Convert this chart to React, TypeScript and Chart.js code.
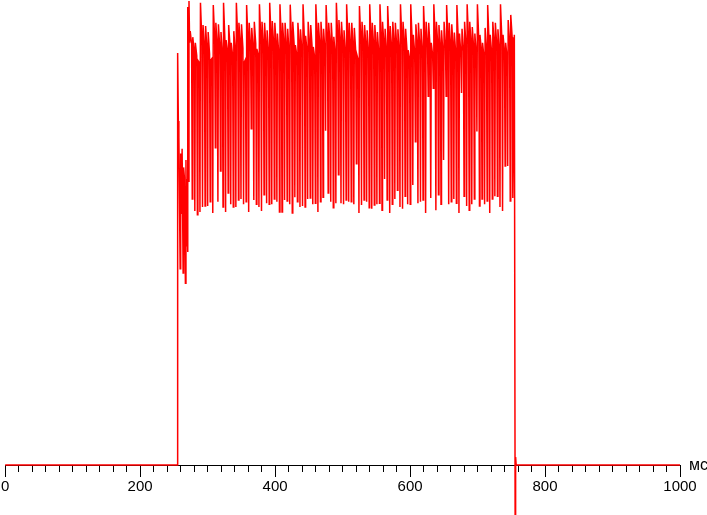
import React, { useEffect, useRef } from 'react';
import { Chart, registerables } from 'chart.js';

Chart.register(...registerables);

// ---- tick labels & unit ----
const xTickLabels = ['0', '200', '400', '600', '800', '1000'];
const unitLabel = 'мс';

// ---- baseline before the light turns on (ms, value %) ----
const baseMs = [0, 255.2];
const baseVal = [0, 0];

// ---- onset transient ----
const onsetMs = [255.6, 256.6, 257.4, 259.3, 260.1, 261.2, 262.2, 263.7, 264.4, 265.5, 267.1, 267.9, 268.6, 269.6, 270.2, 270.9, 271.7, 272.4, 273.3];
const onsetVal = [88.6, 74.0, 70.5, 42.2, 67.0, 54.0, 68.0, 41.3, 64.0, 62.0, 39.1, 65.6, 47.0, 61.5, 45.8, 98.5, 61.0, 99.8, 90.8];

// ---- ripple cycles (each: top, mid, bottom) ----
const cycleStartMs = 274.2;
const cyclePeriodMs = 3.8;
const cycleTop = [
  93.3, 92.0, 90.8, 87.0, 99.4, 94.6, 94.4, 93.1, 87.1, 98.9, 95.1, 94.8, 93.1, 99.4, 91.4, 94.6, 90.8, 93.3, 99.4, 95.1,
  94.8, 86.5, 98.9, 95.1, 94.0, 95.3, 89.5, 99.1, 95.3, 95.1, 93.5, 99.4, 95.5, 95.1, 92.8,
  99.1, 95.1, 95.1, 93.8, 99.0, 95.3, 90.3, 95.1, 93.7, 99.1, 92.3, 95.3, 94.6, 89.9, 99.1, 95.1, 95.3, 93.8, 98.9, 95.1,
  95.1, 92.1, 99.4, 95.7, 95.3, 93.5, 99.1, 95.1, 95.1, 94.0, 88.2, 98.7, 95.3, 94.6, 93.5, 99.1, 95.1, 94.6, 93.1, 99.1,
  95.3, 93.8,
  98.7, 94.4, 95.3, 95.1, 93.7, 99.1, 95.3, 93.8, 89.2, 99.1, 92.5, 94.8, 95.1, 93.8, 98.7, 95.3, 95.1, 90.8, 99.1, 95.3,
  94.6, 93.5, 95.3, 98.9, 95.1, 94.8, 93.0, 98.9, 92.8, 93.8, 95.3, 99.1, 95.3, 94.2, 92.8, 99.1, 92.5, 90.8,
  94.0, 98.9, 92.5, 95.3, 95.1, 93.7, 99.1, 92.5, 90.8, 95.7, 96.8,
];
const cycleMid = [
  90.5, 89.0, 88.0, 86.5, 91.0, 90.0, 89.2, 88.4, 87.5, 91.4, 90.2, 89.5, 88.6, 91.2, 89.0, 89.8, 88.0, 88.8, 91.5, 90.4,
  89.6, 87.2, 91.0, 90.0, 89.4, 90.6, 88.0, 91.3, 90.2, 89.6, 88.5, 91.6, 90.5, 89.8, 88.4,
  91.2, 90.3, 89.6, 88.7, 91.0, 90.2, 88.2, 89.9, 88.9, 91.3, 89.0, 90.4, 89.7, 87.6, 91.1, 90.1, 89.9, 88.8, 91.0, 90.3,
  89.5, 88.2, 91.4, 90.6, 89.8, 88.6, 91.2, 90.2, 89.6, 88.9, 87.0, 91.1, 90.4, 89.7, 88.6, 91.3, 90.0, 89.5, 88.4, 91.0,
  90.3, 88.9,
  91.0, 89.6, 90.3, 89.8, 88.7, 91.3, 90.4, 89.0, 87.4, 91.2, 88.6, 90.0, 89.7, 88.8, 91.0, 90.5, 89.6, 88.1, 91.4, 90.3,
  89.5, 88.6, 89.9, 91.1, 90.2, 89.6, 88.5, 91.0, 88.4, 89.0, 90.1, 91.3, 90.4, 89.5, 88.3, 91.2, 88.9, 87.8,
  89.4, 91.0, 88.6, 90.6, 90.1, 88.9, 91.3, 88.7, 87.9, 91.0, 92.0,
];
const cycleBottom = [
  57.2, 54.6, 53.8, 54.4, 55.5, 55.7, 55.7, 56.6, 54.2, 68.2, 56.6, 63.2, 55.5, 54.4, 58.5, 56.1, 55.5, 55.5, 57.0, 57.2,
  56.1, 56.6, 54.4, 72.3, 57.0, 56.1, 55.5, 54.6, 58.1, 56.3, 56.1, 56.1, 57.2, 56.6, 54.4,
  54.4, 57.0, 56.8, 56.1, 54.2, 57.6, 56.6, 55.5, 55.7, 55.5, 57.2, 57.4, 56.1, 56.3, 54.4, 56.6, 57.6, 71.9, 58.5, 56.6,
  55.3, 56.3, 62.4, 56.3, 56.1, 57.0, 56.6, 56.6, 56.1, 64.8, 54.2, 55.9, 57.0, 56.6, 55.3, 55.1, 55.9, 56.1, 56.3, 54.8,
  61.5, 57.0,
  54.2, 56.1, 57.2, 59.1, 55.5, 55.1, 57.8, 56.1, 56.1, 60.2, 69.5, 56.3, 56.6, 57.0, 54.2, 79.3, 57.4, 81.0, 54.8, 58.1,
  56.1, 65.6, 79.3, 56.1, 56.6, 57.2, 56.3, 54.2, 80.0, 57.8, 55.7, 54.8, 56.1, 57.2, 71.7, 55.7, 57.2, 56.1,
  56.8, 54.2, 57.2, 57.8, 57.8, 55.5, 54.6, 64.3, 64.3, 56.8, 57.4,
];
// phase of the mid and bottom samples inside one ripple cycle (fraction of a period)
const midPhase = 0.55;
const bottomPhase = 0.8;

// ---- switch-off ----
const endMs = [753.6, 754.5, 755.7, 756.4, 757.2, 1000];
const endVal = [78.0, 92.5, -12, 1.7, 0, 0];

function buildPoints() {
  const pts: { x: number; y: number }[] = [];
  baseMs.forEach((t, i) => pts.push({ x: t, y: baseVal[i] }));
  onsetMs.forEach((t, i) => pts.push({ x: t, y: onsetVal[i] }));
  cycleTop.forEach((top, i) => {
    const t = cycleStartMs + i * cyclePeriodMs;
    pts.push({ x: t, y: top });
    pts.push({ x: t + cyclePeriodMs * midPhase, y: cycleMid[i] });
    pts.push({ x: t + cyclePeriodMs * bottomPhase, y: cycleBottom[i] });
  });
  endMs.forEach((t, i) => pts.push({ x: t, y: endVal[i] }));
  return pts;
}

const FONT_FAMILY = '"Liberation Sans", Arial, sans-serif';

const unitPlugin = {
  id: 'unitLabel',
  afterDraw(chart: any) {
    const ctx = chart.ctx;
    const xs = chart.scales.x;
    ctx.save();
    ctx.font = `16px ${FONT_FAMILY}`;
    ctx.fillStyle = '#000';
    ctx.textAlign = 'left';
    ctx.textBaseline = 'middle';
    ctx.fillText(unitLabel, xs.right + 9, xs.top + 1);
    ctx.restore();
  },
};

export default function App() {
  const ref = useRef<HTMLCanvasElement | null>(null);
  useEffect(() => {
    if (!ref.current) return;
    const chart = new Chart(ref.current, {
      type: 'line',
      data: {
        datasets: [
          {
            data: buildPoints(),
            borderColor: '#ff0000',
            borderWidth: 1.5,
            pointRadius: 0,
            tension: 0,
            fill: false,
            clip: false as any,
          },
        ],
      },
      options: {
        responsive: false,
        animation: false,
        devicePixelRatio: 1,
        layout: { padding: { left: 5, right: 27, top: 0, bottom: 0 } },
        plugins: { legend: { display: false }, tooltip: { enabled: false } },
        events: [],
        scales: {
          x: {
            type: 'linear',
            min: 0,
            max: 1000,
            position: 'bottom',
            afterFit: (scale: any) => {
              scale.height = 50;
            },
            border: { display: true, color: '#000', width: 1 },
            grid: {
              display: true,
              drawOnChartArea: false,
              drawTicks: true,
              tickLength: 12,
              tickColor: '#000',
              tickWidth: 1,
              tickBorderDash: (c: any) =>
                c.tick && Math.round(c.tick.value) % 200 === 0 ? [] : [6, 100],
            } as any,
            ticks: {
              stepSize: 20,
              autoSkip: false,
              maxRotation: 0,
              padding: 1,
              color: '#000',
              font: { family: FONT_FAMILY, size: 15 },
              callback: (v: any) => {
                const n = Math.round(Number(v));
                return n % 200 === 0 ? xTickLabels[n / 200] : '';
              },
            },
          },
          y: {
            type: 'linear',
            min: 0,
            max: 100,
            display: false,
          },
        },
      },
      plugins: [unitPlugin],
    });
    return () => chart.destroy();
  }, []);
  return (
    <div style={{ position: 'fixed', left: 0, top: 0, width: 707, height: 515, background: '#fff' }}>
      <canvas ref={ref} width={707} height={515} />
    </div>
  );
}
